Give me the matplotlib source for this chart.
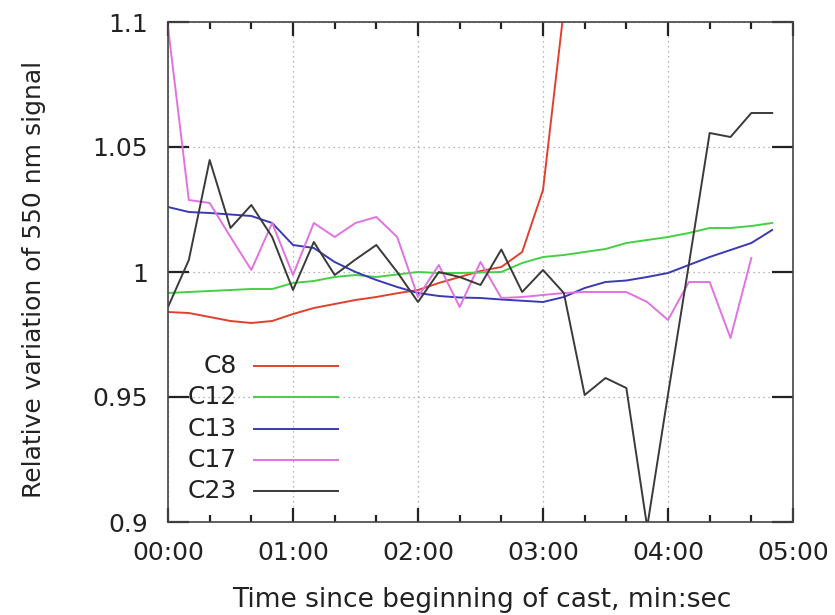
import numpy as np
import matplotlib
matplotlib.use("Agg")
import matplotlib.pyplot as plt
from matplotlib.ticker import MultipleLocator, FuncFormatter

plt.rcParams["font.family"] = ["DejaVu Sans"]

# samples every 10 s since start of cast
STEP = 10

c8 = [0.984, 0.9836, 0.982, 0.9804, 0.9796, 0.9804, 0.9832, 0.9856, 0.9872, 0.9888,
      0.99, 0.9915, 0.9928, 0.9956, 0.998, 1.0004, 1.002, 1.008, 1.0328, 1.105]
c12 = [0.9916, 0.992, 0.9924, 0.9928, 0.9932, 0.9932, 0.9956, 0.9964, 0.998, 0.9988,
       0.998, 0.999, 1.0, 0.9996, 0.9996, 0.9998, 1.0, 1.0036, 1.006, 1.0068,
       1.008, 1.0092, 1.0116, 1.0128, 1.014, 1.0156, 1.0176, 1.0176, 1.0184, 1.0196]
c13 = [1.026, 1.024, 1.0236, 1.023, 1.0224, 1.0196, 1.0108, 1.0096, 1.004, 1.0,
       0.9968, 0.994, 0.9916, 0.9904, 0.9898, 0.9896, 0.989, 0.9885, 0.988, 0.99,
       0.9936, 0.996, 0.9966, 0.998, 0.9996, 1.0028, 1.006, 1.0088, 1.0116, 1.0168]
c17 = [1.098, 1.0288, 1.0276, 1.014, 1.0008, 1.0196, 0.9988, 1.0196, 1.014, 1.0196,
       1.022, 1.014, 0.990, 1.0028, 0.986, 1.004, 0.9896, 0.990, 0.9908, 0.9916,
       0.992, 0.992, 0.992, 0.988, 0.9808, 0.996, 0.996, 0.9736, 1.0056]
c23 = [0.986, 1.0048, 1.0448, 1.0176, 1.0268, 1.014, 0.9928, 1.012, 0.9988, 1.005,
       1.0108, 1.0, 0.988, 1.0, 0.998, 0.9948, 1.009, 0.992, 1.0008, 0.9916,
       0.9508, 0.9576, 0.9536, 0.898, 0.951, 1.003, 1.0556, 1.054, 1.0636, 1.0636]

series = [
    ("C8", c8, "#e2402f"),
    ("C12", c12, "#44d044"),
    ("C13", c13, "#3a3ab4"),
    ("C17", c17, "#e272e2"),
    ("C23", c23, "#3a3a3a"),
]

fig = plt.figure(figsize=(8.35, 6.15), dpi=100)
ax = fig.add_axes([168 / 835, 1 - 522 / 615, 625 / 835, 500 / 615])

for name, vals, col in series:
    t = np.arange(len(vals)) * STEP
    ax.plot(t, vals, color=col, lw=1.4)

ax.set_xlim(0, 300)
ax.set_ylim(0.9, 1.1)
ax.xaxis.set_major_locator(MultipleLocator(60))
ax.xaxis.set_minor_locator(MultipleLocator(20))
ax.yaxis.set_major_locator(MultipleLocator(0.05))
ax.xaxis.set_major_formatter(FuncFormatter(lambda v, p: f"{int(v)//60:02d}:{int(v)%60:02d}"))
ax.yaxis.set_major_formatter(FuncFormatter(lambda v, p: f"{v:g}"))

ax.grid(True, which="major", ls=(0, (1, 3)), color="#a0a0a0", lw=0.9)
ax.tick_params(which="both", direction="in", top=True, right=True, labelsize=18,
               colors="#222222", width=1.6)
ax.tick_params(axis="x", which="major", length=10, pad=14)
ax.tick_params(axis="x", which="minor", length=5)
ax.tick_params(axis="y", which="major", length=15, pad=14.5)
for s in ax.spines.values():
    s.set_color("#444444")
    s.set_linewidth(1.2)

fig.text(482 / 835, 1 - 600 / 615, "Time since beginning of cast, min:sec",
         ha="center", va="center", fontsize=19, color="#222222")
fig.text(34 / 835, 1 - 279 / 615, "Relative variation of 550 nm signal",
         ha="center", va="center", rotation=90, fontsize=18, color="#222222")

# key in the lower left, gnuplot style: label right-aligned, then a line sample
for i, (name, vals, col) in enumerate(series):
    yk = 0.312 - i * 0.0625
    ax.text(0.110, yk, name, transform=ax.transAxes, ha="right", va="center",
            fontsize=18, color="#222222")
    ax.plot([0.138, 0.272], [yk, yk], transform=ax.transAxes, color=col, lw=1.4)

fig.savefig("out.png", dpi=100)
